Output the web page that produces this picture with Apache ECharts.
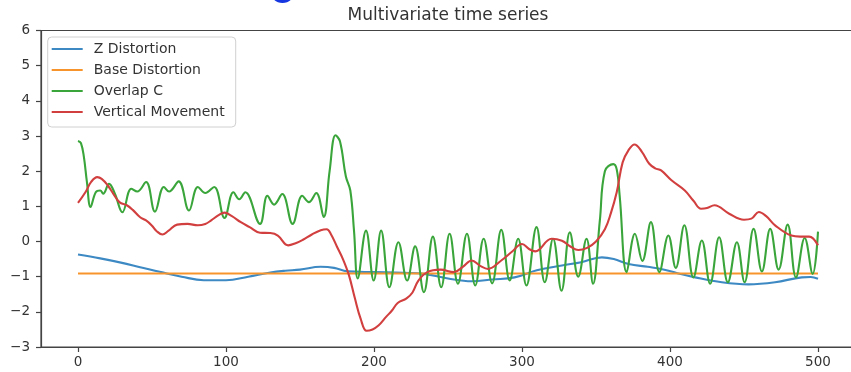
<!DOCTYPE html>
<html>
<head>
<meta charset="utf-8">
<script src="https://cdn.jsdelivr.net/npm/echarts@6/dist/echarts.min.js"></script>
<style>
html,body{margin:0;padding:0;background:#fff;}
#c{width:851px;height:372px;}
</style>
</head>
<body>
<div id="c"></div>
<script>
const titleText = 'Multivariate time series';
const seriesNames = ['Z Distortion', 'Base Distortion', 'Overlap C', 'Vertical Movement'];
const xTicks = [0, 100, 200, 300, 400, 500];

const zDistortion = [[0,-0.37],[15,-0.48],[29,-0.6],[42,-0.73],[56,-0.87],[70,-1.0],[85,-1.1],[100,-1.1],[115,-1.0],[130,-0.88],[140,-0.83],[150,-0.8],[164,-0.72],[173,-0.75],[182,-0.85],[200,-0.87],[220,-0.89],[234,-0.92],[250,-1.05],[266,-1.13],[280,-1.08],[295,-1.02],[310,-0.82],[327,-0.68],[340,-0.59],[354,-0.45],[362,-0.5],[372,-0.64],[385,-0.72],[394,-0.78],[405,-0.9],[417,-1.02],[435,-1.16],[453,-1.22],[471,-1.16],[489,-1.02],[495,-1.01],[500,-1.06]];

const baseDistortion = [[0,-0.91],[500,-0.91]];

const overlapC = [[0,2.86],[2,2.8],[4,2.4],[6,1.7],[8.5,0.98],[12,1.4],[15,1.45],[17,1.36],[21,1.64],[25,1.35],[30,0.83],[36,1.5],[40,1.42],[46,1.69],[52,0.85],[58,1.55],[61.5,1.42],[68,1.71],[75,0.88],[81,1.55],[86,1.38],[92,1.55],[99,0.67],[105,1.4],[109,1.2],[113,1.4],[123,0.5],[128,1.3],[132.5,1.05],[138,1.35],[145,0.5],[151.5,1.3],[156,1.12],[161,1.38],[166,0.7],[170,2.0],[174,3.02],[177,2.85],[181,1.85],[184,1.45],[186.5,0.3],[189,-1.05],[194.6,0.31],[199.8,-1.11],[204.8,0.31],[210.4,-1.3],[216.5,-0.02],[222.4,-1.11],[227.8,-0.14],[233.7,-1.44],[239.8,0.14],[245.4,-1.3],[251.1,0.22],[256.7,-1.2],[262.8,0.22],[268.4,-1.25],[274.1,0.08],[279.8,-1.19],[286,0.33],[291.7,-1.11],[297.4,0.08],[303,-1.25],[309.8,0.41],[315.4,-1.16],[321,0.08],[326.7,-1.4],[332.3,0.26],[338,-1.0],[343.6,0.08],[348,-1.2],[352.6,0.6],[356,2.0],[361.7,2.2],[364,2.05],[366,1.3],[370.7,-0.87],[376.3,0.22],[381.3,-0.55],[387.1,0.55],[392.8,-0.87],[398.9,0.17],[403.9,-0.75],[409.7,0.46],[415.8,-1.02],[421.5,0.03],[427.1,-1.2],[433.2,0.12],[439.1,-1.16],[445.2,-0.02],[450.4,-1.16],[456.5,0.36],[462.1,-0.85],[467.7,0.36],[473.4,-0.8],[479.5,0.48],[485.1,-1.02],[491,0.1],[496.4,-0.92],[500,0.28]];

const verticalMovement = [[0,1.1],[5,1.4],[9,1.7],[13,1.83],[16,1.78],[20,1.6],[24,1.35],[28,1.12],[33,1.03],[37,0.9],[42,0.69],[46,0.6],[50,0.45],[53,0.3],[57,0.2],[61,0.3],[67,0.48],[74,0.5],[81,0.46],[86,0.5],[90,0.6],[95,0.75],[99,0.82],[104,0.72],[110,0.55],[116,0.41],[123,0.25],[130,0.24],[135,0.17],[142,-0.11],[147,-0.05],[152,0.05],[158,0.2],[164,0.32],[168,0.35],[171,0.2],[175,-0.15],[179,-0.5],[183,-0.95],[187,-1.6],[191,-2.2],[195,-2.54],[199,-2.5],[203,-2.39],[208,-2.15],[212,-1.97],[216,-1.75],[222,-1.62],[226,-1.45],[230,-1.11],[236,-0.87],[245,-0.8],[254,-0.87],[260,-0.72],[266,-0.54],[272,-0.7],[277,-0.78],[286,-0.54],[293,-0.3],[300,-0.07],[305,-0.22],[309,-0.28],[320,0.08],[327,0.02],[333,-0.15],[338,-0.24],[344,-0.18],[350,0.0],[356,0.35],[360,0.8],[364,1.4],[368,2.25],[372,2.6],[376,2.76],[381,2.55],[386,2.21],[390,2.08],[394,2.02],[401,1.74],[410,1.45],[416,1.15],[421,0.93],[425,0.95],[430,1.03],[440,0.79],[450,0.62],[455,0.65],[460,0.84],[465,0.72],[471,0.46],[482,0.17],[488,0.14],[494,0.14],[500,-0.11]];

const colors = ['#3d89c3', '#f7952c', '#3aa53a', '#d23f3f'];
const FONT = 'DejaVu Sans';
const chart = echarts.init(document.getElementById('c'), null, {renderer: 'canvas'});

function mkSeries(name, data, color) {
  return {
    name: name, type: 'line', data: data, showSymbol: false, symbol: 'none',
    smooth: 0.4, lineStyle: {color: color, width: 2.1}, itemStyle: {color: color},
    animation: false
  };
}

chart.setOption({
  animation: false,
  backgroundColor: '#fff',
  graphic: [
    {type: 'ellipse', shape: {cx: 282.5, cy: -6, rx: 11, ry: 9}, style: {fill: '#1536e0'}},
    {type: 'text', x: 448, y: 15.5, style: {text: titleText, font: '17px "DejaVu Sans"', fill: '#333', align: 'center', verticalAlign: 'middle'}}
  ],
  grid: {left: 41, top: 30.5, right: -4, bottom: 25, outerBoundsMode: 'none', containLabel: false, show: true, borderColor: '#444', borderWidth: 1.2, backgroundColor: 'transparent'},
  legend: {
    orient: 'vertical', left: 47.7, top: 37,
    data: seriesNames,
    icon: 'rect', itemWidth: 31, itemHeight: 2, itemGap: 5,
    padding: [4, 11, 7, 4],
    backgroundColor: 'rgba(255,255,255,0.85)', borderColor: '#d0d0d0', borderWidth: 1, borderRadius: 4,
    textStyle: {fontFamily: FONT, fontSize: 14, color: '#333', lineHeight: 16, padding: [0, 0, 0, 6]}
  },
  xAxis: {
    type: 'value', min: -25, max: 525,
    axisLine: {show: true, onZero: false, lineStyle: {color: '#444', width: 1.2}},
    axisTick: {show: true, length: 5, lineStyle: {color: '#444', width: 1.2}, customValues: xTicks},
    axisLabel: {show: true, customValues: xTicks, margin: 8, fontFamily: FONT, fontSize: 13.5, color: '#333'},
    splitLine: {show: false}
  },
  yAxis: {
    type: 'value', min: -3, max: 6, interval: 1,
    axisLine: {show: true, onZero: false, lineStyle: {color: '#444', width: 1.2}},
    axisTick: {show: true, length: 5, lineStyle: {color: '#444', width: 1.2}},
    axisLabel: {margin: 11, fontFamily: FONT, fontSize: 13.5, color: '#333', formatter: v => String(v).replace('-', '\u2212')},
    splitLine: {show: false}
  },
  series: [
    mkSeries(seriesNames[0], zDistortion, colors[0]),
    mkSeries(seriesNames[1], baseDistortion, colors[1]),
    mkSeries(seriesNames[2], overlapC, colors[2]),
    mkSeries(seriesNames[3], verticalMovement, colors[3])
  ]
});
</script>
</body>
</html>
